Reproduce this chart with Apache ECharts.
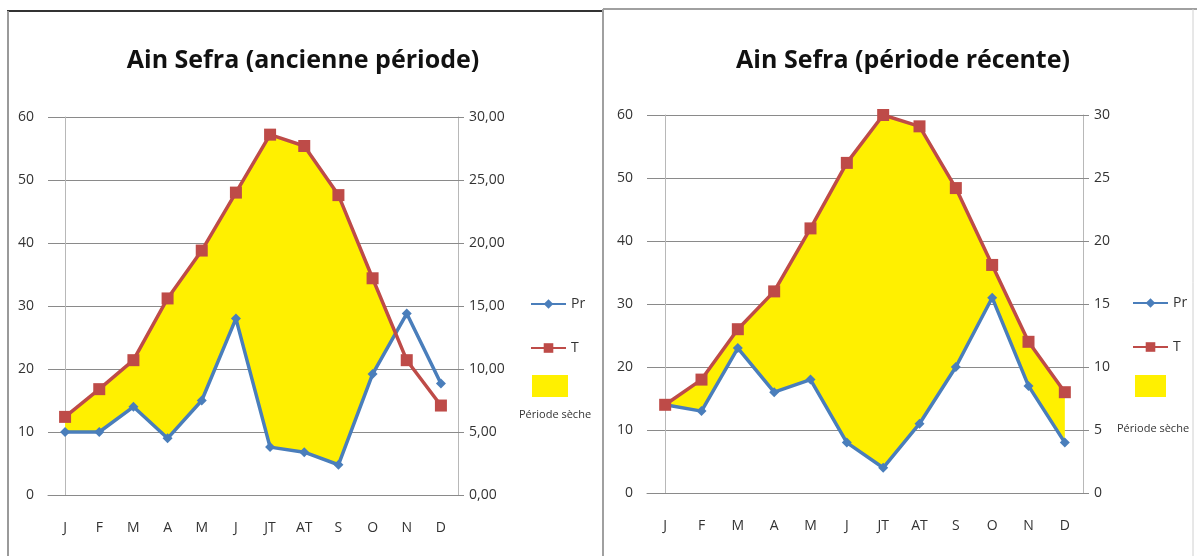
<!DOCTYPE html>
<html>
<head>
<meta charset="utf-8">
<script src="https://cdn.jsdelivr.net/npm/echarts@6/dist/echarts.min.js"></script>
<style>
  html, body { margin: 0; padding: 0; background: #fff; }
  #chart { width: 1197px; height: 556px; }
</style>
</head>
<body>
<div id="chart"></div>
<script>
// Months used on both ombrothermic diagrams
const months = ['J', 'F', 'M', 'A', 'M', 'J', 'JT', 'AT', 'S', 'O', 'N', 'D'];

// Ain Sefra, older period: precipitation (mm) and temperature (°C)
const prOld = [10, 10, 14, 9, 15, 28, 7.6, 6.8, 4.8, 19.2, 28.8, 17.7];
const tOld = [6.2, 8.4, 10.7, 15.6, 19.4, 24, 28.6, 27.7, 23.8, 17.2, 10.7, 7.1];

// Ain Sefra, recent period
const prNew = [14, 13, 23, 16, 18, 8, 4, 11, 20, 31, 17, 8];
const tNew = [7, 9, 13, 16, 21, 26.2, 30, 29.1, 24.2, 18.1, 12, 8];

// Axis tick labels
const prTicks = ['0', '10', '20', '30', '40', '50', '60'];
const tTicksOld = ['0,00', '5,00', '10,00', '15,00', '20,00', '25,00', '30,00'];
const tTicksNew = ['0', '5', '10', '15', '20', '25', '30'];

const titles = ['Ain Sefra (ancienne période)', 'Ain Sefra (période récente)'];

const FONT = '"Open Sans", sans-serif';
const BLUE = '#4a7ebb';
const RED = '#be4b48';
const YELLOW = '#fff000';
const GRID = '#8a8a8a';

// Dry period (Gaussen): months where P < 2T. The precipitation axis spans
// twice the temperature axis, so 2T is read on the precipitation scale.
function dryRegions(pr, t) {
  const n = pr.length;
  const d = i => 2 * t[i] - pr[i];
  const polys = [];
  let upper = [], lower = [];
  for (let i = 0; i < n; i++) {
    if (d(i) >= 0) {
      upper.push([i, 2 * t[i]]);
      lower.push([i, pr[i]]);
    }
    if (i < n - 1 && (d(i) >= 0) !== (d(i + 1) >= 0)) {
      const f = d(i) / (d(i) - d(i + 1));
      const cross = [i + f, pr[i] + f * (pr[i + 1] - pr[i])];
      if (d(i) >= 0) {
        upper.push(cross);
        polys.push(upper.concat(lower.slice().reverse()));
        upper = []; lower = [];
      } else {
        upper = [cross];
        lower = [cross];
      }
    }
  }
  if (upper.length) polys.push(upper.concat(lower.slice().reverse()));
  return polys;
}

const grids = [
  { left: 48, top: 117, width: 410, height: 378 },
  { left: 647, top: 115, width: 436, height: 378 }
];

const xAxes = [], yAxes = [], series = [];
const datasets = [
  { pr: prOld, t: tOld, tTicks: tTicksOld },
  { pr: prNew, t: tNew, tTicks: tTicksNew }
];

datasets.forEach((ds, k) => {
  xAxes.push({
    type: 'category', gridIndex: k, data: months, boundaryGap: true,
    axisLine: { lineStyle: { color: GRID, width: 1 } },
    axisTick: { show: false },
    axisLabel: { color: '#333', fontFamily: FONT, fontSize: 14, margin: 26 }
  });
  xAxes.push({
    type: 'value', gridIndex: k, min: -0.5, max: 11.5, show: false
  });
  yAxes.push({
    type: 'value', gridIndex: k, min: 0, max: 60, interval: 10, position: 'left',
    axisLine: { show: true, lineStyle: { color: '#b8b8b8', width: 1 } },
    axisTick: { show: false },
    splitLine: { lineStyle: { color: GRID, width: 1 } },
    axisLabel: {
      color: '#333', fontFamily: FONT, fontSize: 14, margin: 14,
      formatter: v => prTicks[Math.round(v / 10)]
    }
  });
  yAxes.push({
    type: 'value', gridIndex: k, min: 0, max: 30, interval: 5, position: 'right',
    axisLine: { show: true, lineStyle: { color: '#b8b8b8', width: 1 } },
    axisTick: { show: true, inside: false, length: 6, lineStyle: { color: GRID } },
    splitLine: { show: false },
    axisLabel: {
      color: '#333', fontFamily: FONT, fontSize: 14, margin: 11,
      formatter: v => ds.tTicks[Math.round(v / 5)]
    }
  });

  const polys = dryRegions(ds.pr, ds.t);
  series.push({
    type: 'custom', name: 'Période sèche',
    xAxisIndex: 2 * k + 1, yAxisIndex: 2 * k,
    data: [[0, 0]], silent: true, z: 1,
    renderItem: (params, api) => ({
      type: 'group',
      children: polys.map(poly => ({
        type: 'polygon',
        shape: { points: poly.map(p => api.coord(p)) },
        style: { fill: YELLOW, stroke: null }
      }))
    })
  });
  series.push({
    type: 'line', name: 'Pr', xAxisIndex: 2 * k, yAxisIndex: 2 * k,
    data: ds.pr, z: 3,
    symbol: 'diamond', symbolSize: 10,
    lineStyle: { color: BLUE, width: 3.5 },
    itemStyle: { color: BLUE }
  });
  series.push({
    type: 'line', name: 'T', xAxisIndex: 2 * k, yAxisIndex: 2 * k + 1,
    data: ds.t, z: 4,
    symbol: 'rect', symbolSize: 12,
    lineStyle: { color: RED, width: 3.5 },
    itemStyle: { color: RED }
  });
});

const legendText = { color: '#333', fontFamily: FONT, fontSize: 14 };
const legends = [];
[{ x: 525, y: 292 }, { x: 1127, y: 291 }].forEach(p => {
  legends.push({
    orient: 'vertical', left: p.x, top: p.y, itemWidth: 35, itemHeight: 12,
    itemGap: 30, itemTextGap: 2, data: ['Pr', 'T'], textStyle: legendText,
    selectedMode: false
  });
});
[{ x: 527, y: 370, w: 36 }, { x: 1130, y: 370, w: 31 }].forEach(p => {
  legends.push({
    left: p.x, top: p.y, itemWidth: p.w, itemHeight: 22,
    data: [{ name: 'Période sèche', icon: 'rect', itemStyle: { color: YELLOW } }],
    formatter: () => '', selectedMode: false
  });
});

const titleStyle = { fontFamily: FONT, fontSize: 25, fontWeight: 'bold', color: '#111' };
const option = {
  animation: false,
  backgroundColor: '#fff',
  title: [
    { text: titles[0], left: 298, top: 43, textAlign: 'center', textStyle: titleStyle },
    { text: titles[1], left: 898, top: 43, textAlign: 'center', textStyle: titleStyle }
  ],
  legend: legends,
  grid: grids,
  xAxis: xAxes,
  yAxis: yAxes,
  series: series,
  graphic: [
    // chart frames
    { type: 'line', shape: { x1: 7, y1: 11, x2: 603, y2: 11 }, style: { stroke: '#333', lineWidth: 2 } },
    { type: 'line', shape: { x1: 8, y1: 11, x2: 8, y2: 556 }, style: { stroke: '#9a9a9a', lineWidth: 2 } },
    { type: 'line', shape: { x1: 603, y1: 9, x2: 603, y2: 556 }, style: { stroke: '#a0a0a0', lineWidth: 2 } },
    { type: 'line', shape: { x1: 603, y1: 9, x2: 1197, y2: 9 }, style: { stroke: '#a0a0a0', lineWidth: 2 } },
    { type: 'line', shape: { x1: 1193, y1: 9, x2: 1193, y2: 556 }, style: { stroke: '#d0d0d0', lineWidth: 1 } },
    // legend captions under the yellow swatches
    { type: 'text', left: 519, top: 409,
      style: { text: 'Période sèche', fontFamily: FONT, fontSize: 11, fill: '#333' } },
    { type: 'text', left: 1117, top: 423,
      style: { text: 'Période sèche', fontFamily: FONT, fontSize: 11, fill: '#333' } }
  ]
};

const chart = echarts.init(document.getElementById('chart'), null, { renderer: 'canvas' });
chart.setOption(option);
</script>
</body>
</html>
